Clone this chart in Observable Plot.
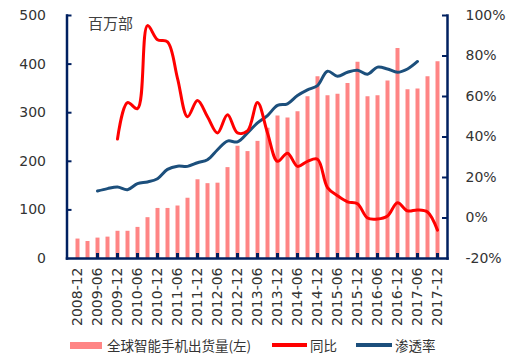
<!DOCTYPE html>
<html>
<head>
<meta charset="utf-8">
<script src="https://cdn.jsdelivr.net/npm/d3@7"></script>
<script src="https://cdn.jsdelivr.net/npm/@observablehq/plot@0.6"></script>
<style>
  html, body { margin: 0; padding: 0; background: #fff; }
  #wrap { position: relative; width: 520px; height: 359px; overflow: hidden; }
  #legend { position: absolute; left: 0; top: 332px; width: 520px; height: 27px;
            font-family: "Noto Sans CJK SC", sans-serif; font-size: 13.5px; color: #333; }
  .sw { position: absolute; }
  .lt { position: absolute; top: 4px; line-height: 18px; white-space: nowrap; }
</style>
</head>
<body>
<div id="wrap">
  <div id="chart"></div>
  <div id="legend"></div>
</div>
<script>
// ---- data ----
const quarters = [
  "2008-12","2009-03","2009-06","2009-09","2009-12","2010-03","2010-06","2010-09",
  "2010-12","2011-03","2011-06","2011-09","2011-12","2012-03","2012-06","2012-09",
  "2012-12","2013-03","2013-06","2013-09","2013-12","2014-03","2014-06","2014-09",
  "2014-12","2015-03","2015-06","2015-09","2015-12","2016-03","2016-06","2016-09",
  "2016-12","2017-03","2017-06","2017-09","2017-12"
];
const tickLabels = [
  "2008-12","2009-06","2009-12","2010-06","2010-12","2011-06","2011-12","2012-06",
  "2012-12","2013-06","2013-12","2014-06","2014-12","2015-06","2015-12","2016-06",
  "2016-12","2017-06","2017-12"
];
// global smartphone shipments, million units (left axis)
const shipments = [
  40, 35, 42, 44, 56, 56, 64, 84,
  103, 103, 108, 124, 162, 154, 155, 187,
  231, 220, 241, 268, 293, 289, 302, 333,
  374, 335, 338, 360, 404, 333, 335, 365,
  432, 347, 349, 374, 405
];
// YoY growth, % (right axis)
const yoy = [
  null, null, null, null, 39, 57, 54, 95,
  88, 87, 69, 50, 58, 50, 42, 51,
  42, 43, 57, 42, 28, 32, 25.5, 28,
  29, 15, 11, 8, 7, 0, -0.5, 1,
  7.5, 3.5, 4, 3, -6
];
// penetration rate, % (right axis)
const penetration = [
  null, null, 13.3, 14.5, 15.3, 14, 17, 17.8,
  19.4, 24, 25.6, 25.5, 27.3, 28.8, 33.7, 38,
  37.6, 42, 47, 50.6, 55.6, 56.4, 60.5, 63.3,
  65.4, 72.5, 70, 72, 73, 71, 74.5, 73.6,
  72, 73.6, 77.3, null, null
];
const leftTicks = [0, 100, 200, 300, 400, 500];
const pctTicks = [-20, 0, 20, 40, 60, 80, 100];
const unitLabel = "百万部";
const seriesNames = ["全球智能手机出货量(左)", "同比", "渗透率"];

// ---- styles ----
const navy = "#002060";
const pink = "#ff8585";
const red = "#ff0000";
const blue = "#1c4f7c";

const W = 520, H = 332;
const mL = 66.5, mR = 73, mT = 15, mB = 74;
const plotW = W - mL - mR, plotH = H - mT - mB;

const leftMax = 500, pctMin = -20, pctMax = 100;
const toLeft = p => (p - pctMin) / (pctMax - pctMin) * leftMax;
const toPct = v => v / leftMax * (pctMax - pctMin) + pctMin;

const barData = quarters.map((q, i) => ({q, v: shipments[i]}));
const yoyData = quarters.map((q, i) => ({q, v: yoy[i]})).filter(d => d.v != null);
const penData = quarters.map((q, i) => ({q, v: penetration[i]})).filter(d => d.v != null);

const chart = Plot.plot({
  width: W, height: H,
  marginLeft: mL, marginRight: mR, marginTop: mT, marginBottom: mB,
  style: {fontFamily: "DejaVu Sans, sans-serif", fontSize: "14px", color: "#333", background: "#fff"},
  x: {type: "point", domain: quarters, range: [67.5, 445.5]},
  y: {domain: [0, leftMax]},
  marks: [
    Plot.ruleX(barData, {x: "q", y1: 0, y2: "v", stroke: pink, strokeWidth: 4}),
    Plot.line(penData, {x: "q", y: d => toLeft(d.v), curve: "catmull-rom", stroke: blue, strokeWidth: 3}),
    Plot.line(yoyData, {x: "q", y: d => toLeft(d.v), curve: "catmull-rom", stroke: red, strokeWidth: 3}),
    // axis lines
    Plot.frame({anchor: "left", stroke: navy, strokeWidth: 2.5}),
    Plot.frame({anchor: "right", stroke: navy, strokeWidth: 2.5}),
    Plot.frame({anchor: "bottom", stroke: navy, strokeWidth: 2.5}),
    // inside ticks
    Plot.tickY(leftTicks.slice(1), {y: d => d, stroke: navy, strokeWidth: 2, insetRight: plotW - 5}),
    Plot.tickY(pctTicks.slice(1).map(toLeft), {y: d => d, stroke: navy, strokeWidth: 2, insetLeft: plotW - 5}),
    Plot.tickX(tickLabels.slice(1), {x: d => d, stroke: navy, strokeWidth: 3, insetTop: plotH - 5}),
    // axes labels
    Plot.axisY(leftTicks, {anchor: "left", tickSize: 0, tickPadding: 21, label: null, fontSize: 14}),
    Plot.axisY(pctTicks.map(toLeft), {anchor: "right", tickSize: 0, tickPadding: 18, label: null, fontSize: 14,
      tickFormat: v => Math.round(toPct(v)) + "%"}),
    Plot.axisX(tickLabels, {anchor: "bottom", tickSize: 0, tickPadding: 9, tickRotate: -90, label: null, fontSize: 14}),
    // unit label
    Plot.text([unitLabel], {frameAnchor: "top-left", dx: 21, dy: 3, textAnchor: "start",
      fontFamily: "Noto Sans CJK SC", fontSize: 15, fill: "#404040"})
  ]
});
document.getElementById("chart").appendChild(chart);

// ---- legend ----
const legend = document.getElementById("legend");
const items = [
  {name: seriesNames[0], color: pink, sw: {left: 70, width: 32, height: 7}, tx: 107},
  {name: seriesNames[1], color: red, sw: {left: 272, width: 35, height: 3.5}, tx: 310},
  {name: seriesNames[2], color: blue, sw: {left: 356, width: 36, height: 3.5}, tx: 395}
];
for (const it of items) {
  const s = document.createElement("div");
  s.className = "sw";
  s.style.left = it.sw.left + "px";
  s.style.width = it.sw.width + "px";
  s.style.height = it.sw.height + "px";
  s.style.top = (13 - it.sw.height / 2) + "px";
  s.style.background = it.color;
  legend.appendChild(s);
  const t = document.createElement("div");
  t.className = "lt";
  t.style.left = it.tx + "px";
  t.textContent = it.name;
  legend.appendChild(t);
}
</script>
</body>
</html>
